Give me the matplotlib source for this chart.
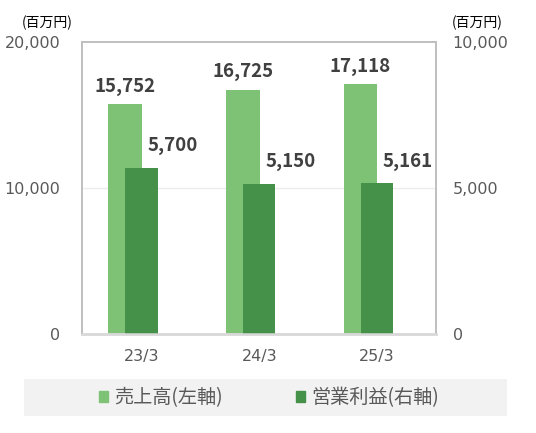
import numpy as np
from matplotlib import pyplot as plt
from matplotlib.patches import Patch, Rectangle

plt.rcParams['font.family'] = ['Noto Sans CJK JP', 'DejaVu Sans']

categories = ['23/3', '24/3', '25/3']
sales = [15752, 16725, 17118]          # 売上高 (left axis)
op_profit = [5700, 5150, 5161]         # 営業利益 (right axis)

light = '#7DC275'
dark = '#46914A'
tick_col = '#595959'
lab_col = '#404040'


def fmt(v):
    return f'{v:,}'


def plot_chart():
    fig = plt.figure(figsize=(5.36, 4.33), dpi=100)
    ax = fig.add_axes([82.5 / 536, 99 / 433, 353.5 / 536, 292 / 433])
    ax2 = ax.twinx()

    x = np.arange(len(categories))
    ax.bar(x - 0.14, sales, width=0.285, color=light, zorder=2)
    ax2.bar(x, op_profit, width=0.275, color=dark, zorder=2)

    ax.set_xlim(-0.5, 2.5)
    ax.set_ylim(0, 20000)
    ax2.set_ylim(0, 10000)
    ax.set_yticks([0, 10000, 20000])
    ax2.set_yticks([0, 5000, 10000])
    ax.set_yticklabels([fmt(v) for v in [0, 10000, 20000]])
    ax2.set_yticklabels([fmt(v) for v in [0, 5000, 10000]])
    ax.set_xticks(x)
    ax.set_xticklabels(categories)

    ax.axhline(10000, color='#ececec', lw=1, zorder=1)

    ax.tick_params(axis='y', length=0, pad=16, labelsize=11.5, labelcolor=tick_col)
    ax2.tick_params(axis='y', length=0, pad=12, labelsize=11.5, labelcolor=tick_col)
    ax.tick_params(axis='x', length=0, pad=11, labelsize=11.5, labelcolor=tick_col)
    for t in ax.get_yticklabels() + ax2.get_yticklabels() + ax.get_xticklabels():
        t.set_family('DejaVu Sans')

    for a in (ax, ax2):
        for side in ('left', 'top', 'right'):
            a.spines[side].set_color('#bfbfbf')
            a.spines[side].set_linewidth(1.2)
        a.spines['bottom'].set_color('#d9d9d9')
        a.spines['bottom'].set_linewidth(1.8)

    for xi, v in zip(x, sales):
        ax.annotate(fmt(v), (xi - 0.14, v), xytext=(0, 18), textcoords='offset pixels',
                    ha='center', va='center', fontsize=13.5, fontweight='bold', color=lab_col)
    for xi, v in zip(x, op_profit):
        ax2.annotate(fmt(v), (xi, v), xytext=(31, 22), textcoords='offset pixels',
                     ha='center', va='center', fontsize=13.5, fontweight='bold', color=lab_col)

    fig.text(22 / 536, 1 - 23 / 433, '(百万円)', fontsize=10, color='#000000',
             ha='left', va='center')
    fig.text(452 / 536, 1 - 23 / 433, '(百万円)', fontsize=10, color='#000000',
             ha='left', va='center')

    fig.add_artist(Rectangle((24 / 536, 1 - 415.6 / 433), 483 / 536, 36.6 / 433,
                             transform=fig.transFigure, facecolor='#f2f2f2',
                             edgecolor='none', zorder=0))
    handles = [Patch(color=light), Patch(color=dark)]
    leg = fig.legend(handles, ['売上高(左軸)', '営業利益(右軸)'], loc='center',
                     bbox_to_anchor=(269 / 536, 1 - 397.5 / 433), ncol=2, frameon=False,
                     fontsize=13.8, handlelength=0.5, handleheight=0.5,
                     handletextpad=0.32, columnspacing=3.8)
    for t in leg.get_texts():
        t.set_color(tick_col)

    fig.savefig('out.png', dpi=100)


if __name__ == '__main__':
    plot_chart()
